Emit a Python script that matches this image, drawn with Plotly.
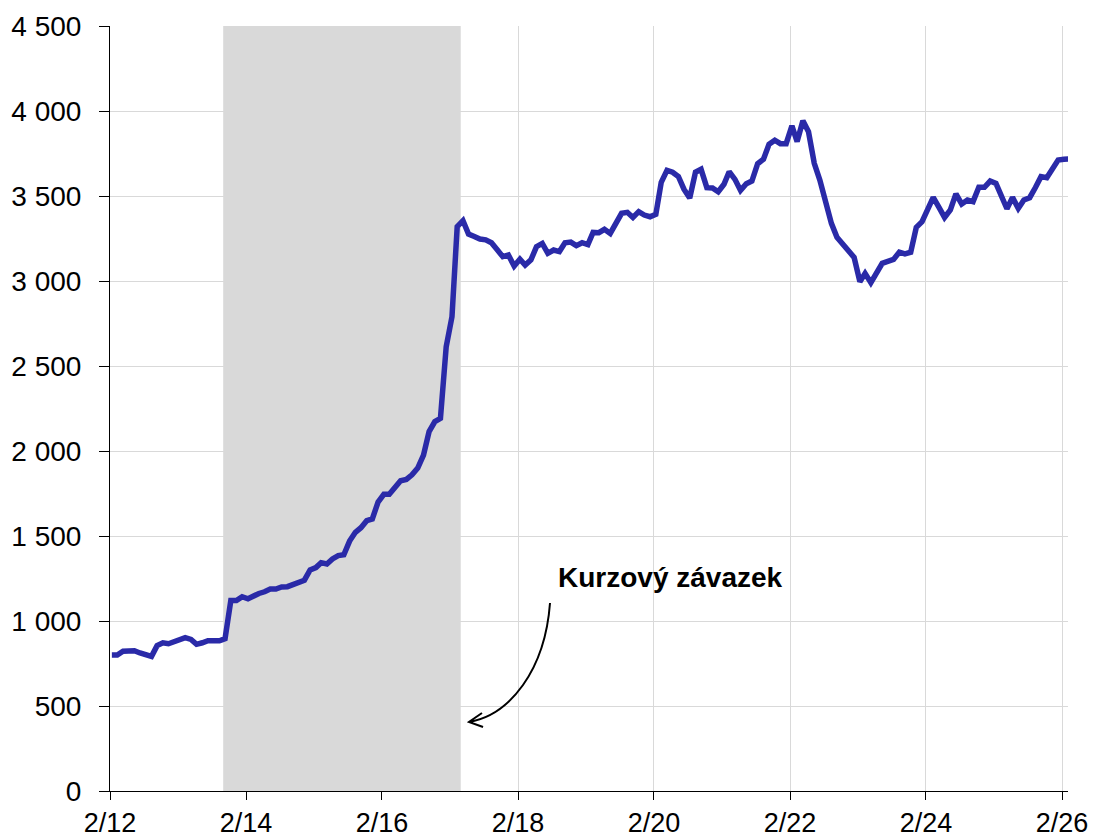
import pandas as pd
import plotly.graph_objects as go

# Monthly values, Feb 2012 .. Mar 2026
values = [
    800, 800, 822, 825, 825, 812, 798, 792, 855, 872, 866, 878,
    892, 902, 892, 863, 872, 884, 884, 884, 896, 1120, 1120, 1143,
    1131, 1148, 1162, 1172, 1188, 1188, 1200, 1202, 1212, 1222, 1240, 1300,
    1314, 1343, 1335, 1365, 1385, 1390, 1470, 1522, 1549, 1590, 1600, 1700,
    1745, 1745, 1780, 1825, 1833, 1860, 1900, 1976, 2114, 2173, 2192, 2614,
    2790, 3320, 3355, 3276, 3262, 3247, 3242, 3225, 3185, 3143, 3153, 3088,
    3128, 3094, 3124, 3202, 3221, 3163, 3182, 3173, 3225, 3229, 3208, 3225,
    3214, 3286, 3284, 3304, 3280, 3339, 3398, 3404, 3374, 3408, 3388, 3378,
    3392, 3580, 3651, 3640, 3615, 3540, 3488, 3640, 3657, 3549, 3547, 3525,
    3569, 3643, 3598, 3533, 3572, 3588, 3690, 3716, 3804, 3828, 3808, 3808,
    3912, 3820, 3943, 3878, 3692, 3594, 3467, 3339, 3257, 3215, 3180, 3139,
    2996, 3045, 2990, 3045, 3104, 3115, 3127, 3170, 3160, 3169, 3316, 3349,
    3420, 3492, 3433, 3374, 3418, 3512, 3453, 3476, 3467, 3551, 3551, 3588,
    3574, 3510, 3425, 3492, 3427, 3476, 3490, 3550, 3614, 3608, 3660, 3712,
    3716, 3718,
]
dates = pd.date_range("2012-02-01", periods=len(values), freq="MS") + pd.Timedelta(days=10)

x_tickvals = ["2012-02-01", "2014-02-01", "2016-02-01", "2018-02-01",
              "2020-02-01", "2022-02-01", "2024-02-01", "2026-02-01"]
x_ticktext = ["2/12", "2/14", "2/16", "2/18", "2/20", "2/22", "2/24", "2/26"]
y_tickvals = [0, 500, 1000, 1500, 2000, 2500, 3000, 3500, 4000, 4500]
y_ticktext = ["0", "500", "1 000", "1 500", "2 000", "2 500", "3 000", "3 500", "4 000", "4 500"]

shade_start = "2013-10-01"
shade_end = "2017-03-30"
annot_text = "Kurzový závazek"

FONT = "Liberation Sans, Arial, sans-serif"

fig = go.Figure()
fig.add_trace(go.Scatter(
    x=dates, y=values, mode="lines",
    line=dict(color="#2A2AA8", width=5.5),
    hoverinfo="skip", showlegend=False,
))

fig.add_shape(type="rect", xref="x", yref="y",
              x0=shade_start, x1=shade_end, y0=0, y1=4500,
              fillcolor="#d9d9d9", line=dict(width=0), layer="between")

# curved arrow
fig.add_shape(type="path", xref="paper", yref="paper",
              path="M 0.4593 0.2458 C 0.4541 0.1582 0.4175 0.0993 0.3747 0.0902 "
                   "M 0.3883 0.1020 L 0.3747 0.0902 L 0.3894 0.0837",
              line=dict(color="black", width=2), layer="above")

fig.add_annotation(text="<b>" + annot_text + "</b>", xref="paper", yref="y",
                   x=0.5846, y=1253, showarrow=False,
                   font=dict(family=FONT, size=28, color="black"),
                   xanchor="center", yanchor="middle")

fig.update_layout(
    width=1094, height=831,
    margin=dict(l=102, r=34, t=18, b=48, autoexpand=False),
    paper_bgcolor="white", plot_bgcolor="white",
    font=dict(family=FONT, size=28, color="black"),
    showlegend=False,
)
fig.update_xaxes(
    type="date", range=["2012-02-01", "2026-03-05"],
    tickvals=x_tickvals, ticktext=x_ticktext,
    showgrid=True, gridcolor="#d9d9d9", gridwidth=1,
    ticks="outside", ticklen=8, tickcolor="black", tickwidth=1,
    showline=True, linecolor="black", linewidth=1,
    tickfont=dict(family=FONT, size=27, color="black"),
    ticklabelstandoff=0, automargin=False,
)
fig.update_yaxes(
    range=[0, 4500],
    tickvals=y_tickvals, ticktext=y_ticktext,
    showgrid=True, gridcolor="#d9d9d9", gridwidth=1,
    zeroline=False,
    ticks="outside", ticklen=10, tickcolor="black", tickwidth=1,
    showline=True, linecolor="black", linewidth=1,
    tickfont=dict(family=FONT, size=28, color="black"),
    ticklabelstandoff=12, automargin=False,
)

fig.write_html("out.html")
